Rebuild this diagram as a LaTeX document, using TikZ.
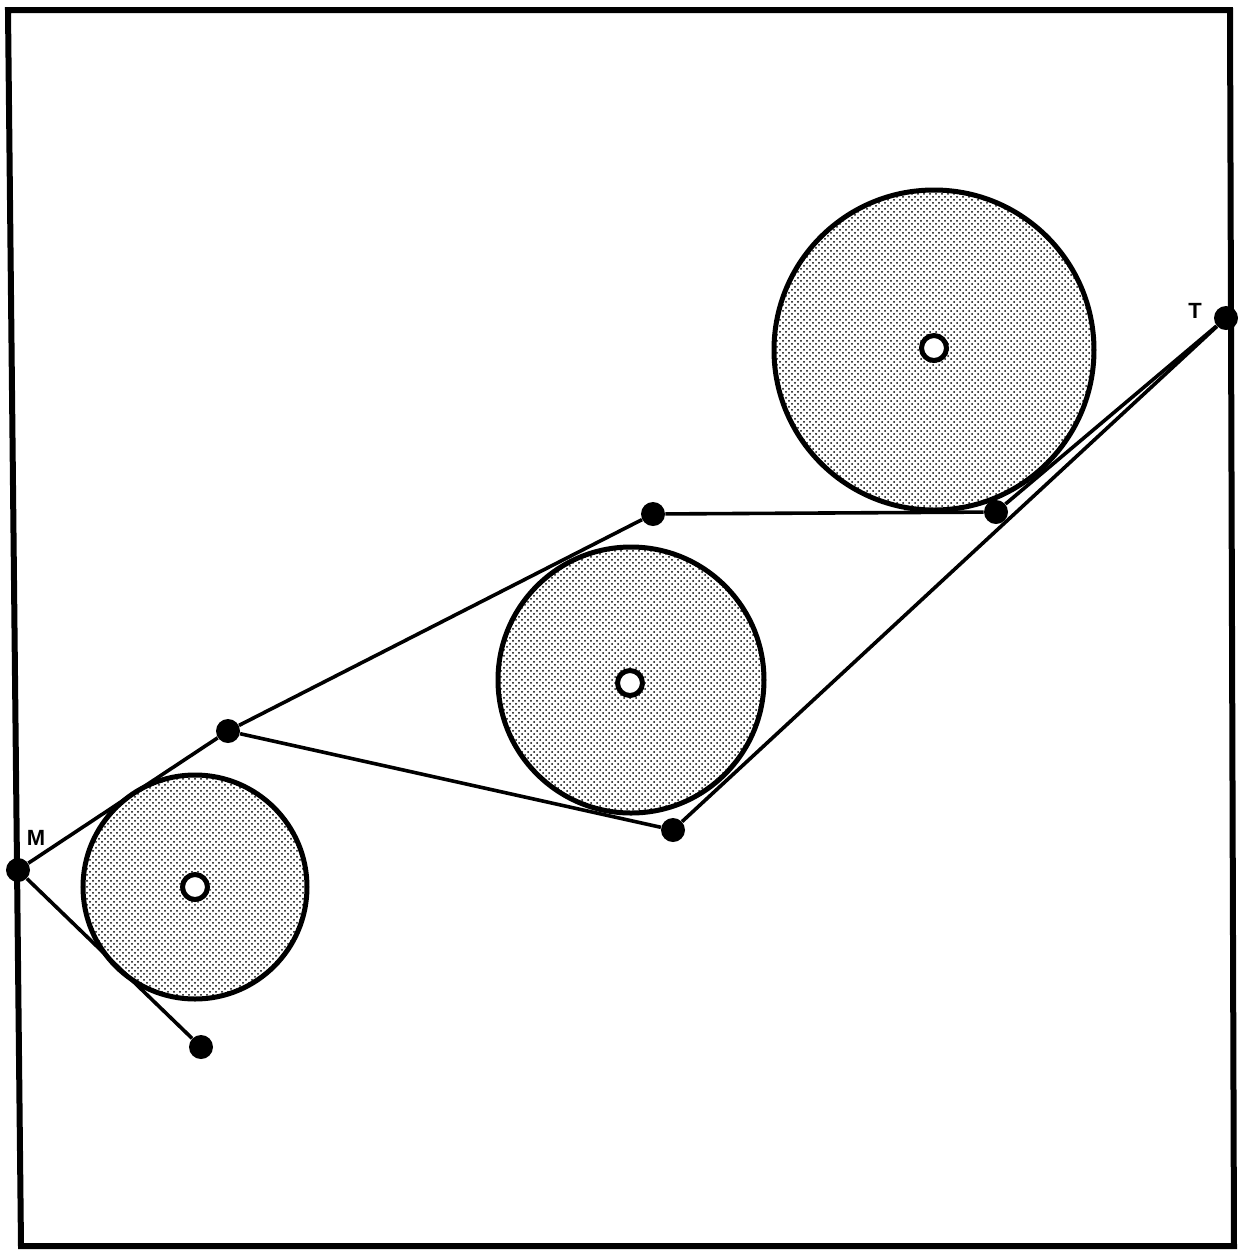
\documentclass[tikz,border=0pt]{standalone}
\usepackage{fontspec}
\setsansfont{Liberation Sans}
\usetikzlibrary{patterns}
\begin{document}
\begin{tikzpicture}[x=0.5pt,y=-0.5pt,
  wheel/.style={circle,draw,line width=2.5pt,pattern=crosshatch dots,inner sep=0pt},
  hub/.style={circle,draw,fill=white,line width=2.5pt,minimum size=12.5pt,inner sep=0pt},
  joint/.style={circle,fill=black,minimum size=12pt,inner sep=0pt},
  rope/.style={line width=1.8pt},
  lab/.style={font=\sffamily\bfseries\fontsize{11}{13}\selectfont,inner sep=0pt}]
\useasboundingbox (0,0) rectangle (1238,1250);
% frame
\draw[line width=3pt,line join=miter] (8,10) -- (1230,10) -- (1234,1246) -- (21,1246) -- cycle;
% wheels
\node[wheel,minimum size=112pt] (c1) at (195,887) {};
\node[wheel,minimum size=133pt] (c2) at (631,680) {};
\node[wheel,minimum size=160pt] (c3) at (934,350) {};
\node[hub] (h1) at (195,887) {};
\node[hub] (h2) at (630,683) {};
\node[hub] (h3) at (934,348) {};
% joints
\node[joint] (M) at (18,870) {};
\node[joint] (T) at (1226,318) {};
\node[joint] (p1) at (201,1047) {};
\node[joint] (p2) at (228,731) {};
\node[joint] (p3) at (653,514) {};
\node[joint] (p4) at (996,512) {};
\node[joint] (p5) at (673,830) {};
% ropes
\draw[rope] (M) -- (p2);
\draw[rope] (M) -- (p1);
\draw[rope] (p2) -- (p3);
\draw[rope] (p2) -- (p5);
\draw[rope] (p3) -- (p4);
\draw[rope] (p4) -- (T);
\draw[rope] (p5) -- (T);
% labels
\node[lab] (lM) at (36,838) {M};
\node[lab] (lT) at (1195,311) {T};
\end{tikzpicture}
\end{document}
